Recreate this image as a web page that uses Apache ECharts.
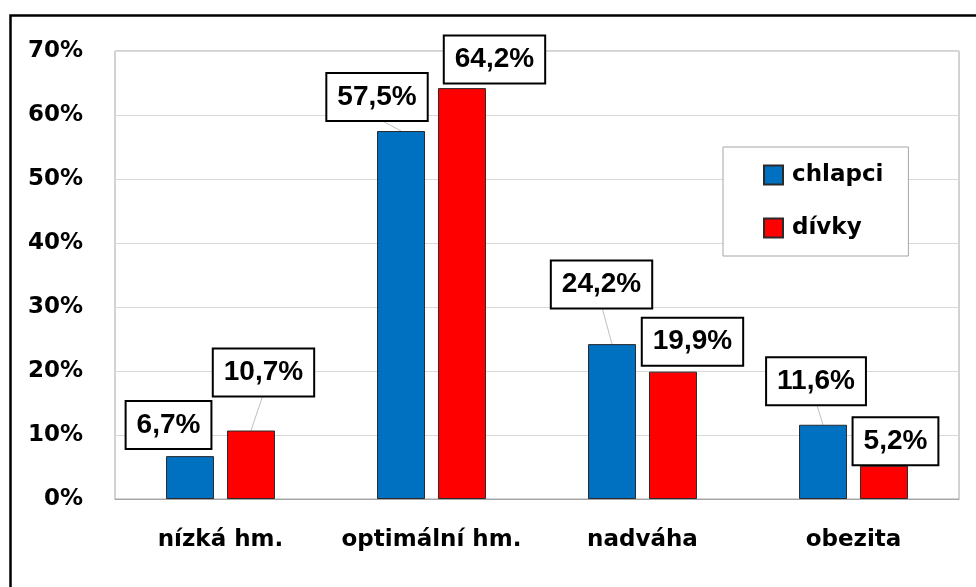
<!DOCTYPE html>
<html><head><meta charset="utf-8">
<script src="https://cdn.jsdelivr.net/npm/echarts@6/dist/echarts.min.js"></script>
<style>html,body{margin:0;padding:0;background:#fff}#c{width:976px;height:587px}</style>
</head><body><div id="c"></div>
<script>
// data
const categories = ['nízká hm.', 'optimální hm.', 'nadváha', 'obezita'];
const seriesNames = ['chlapci', 'dívky'];
const chlapci = [6.7, 57.5, 24.2, 11.6];
const divky = [10.7, 64.2, 19.9, 5.2];
const yMin = 0, yMax = 70, yStep = 10;

// label box centre offsets relative to bar top-centre (layout only)
const blueOff = [[-21.5, -32], [-24, -35], [-10.5, -60.5], [-7, -44.6]];
const redOff = [[12.5, -59], [32.5, -29.5], [19.5, -31], [11.5, -25.5]];
const LBL_H = 48;
const BAR_W = 48, BAR_GAP_PX = 13;
const SIDE = (BAR_W + BAR_GAP_PX) / 2;

const axisFont = 'DejaVu Sans';
const labelFont = 'Liberation Sans';

function fmt(v) { return v.toFixed(1).replace('.', ',') + '%'; }

function makeLabel() {
  return {
    show: true, position: 'top', distance: 0,
    formatter: p => fmt(p.value),
    fontFamily: labelFont, fontWeight: 'bold', fontSize: 28, color: '#000',
    lineHeight: 30,
    backgroundColor: '#fff', borderColor: '#000', borderWidth: 2,
    padding: [8, 10, 8, 10]
  };
}
function layoutFor(off) {
  return function (params) {
    const o = off[params.dataIndex];
    return { dx: o[0], dy: o[1] + LBL_H / 2 };
  };
}

// leader lines: from label box bottom to bar top centre, via axis coords
function leaderSeries(values, off, side) {
  return {
    type: 'custom', silent: true, z: 1,
    data: values.map((v, i) => [i, v]),
    encode: { x: 0, y: 1 },
    renderItem: function (params, api) {
      const i = api.value(0);
      const p = api.coord([i, api.value(1)]);
      const bx = p[0] + side, by = p[1];
      const o = off[i];
      const lx = bx + o[0], ly = by + o[1] + LBL_H / 2;
      if (by - ly < 10) return null;
      return {
        type: 'line',
        shape: { x1: lx, y1: ly - 2, x2: bx, y2: by },
        style: { stroke: '#bfbfbf', lineWidth: 1 }
      };
    }
  };
}

const chart = echarts.init(document.getElementById('c'), null, { renderer: 'canvas' });
chart.setOption({
  animation: false,
  backgroundColor: '#fff',
  graphic: [{
    type: 'rect', left: 8, top: 13, silent: true,
    shape: { width: 1200, height: 1200 },
    style: { fill: 'none', stroke: '#000', lineWidth: 2.5 }
  }],
  grid: {
    left: 115, right: 17, top: 51, bottom: 88,
    show: true, borderColor: '#a6a6a6', borderWidth: 1, backgroundColor: 'transparent'
  },
  legend: {
    orient: 'vertical', left: 723, top: 147,
    data: seriesNames,
    icon: 'rect', itemWidth: 19, itemHeight: 19, itemGap: 27,
    padding: [15, 25, 15, 40],
    backgroundColor: '#fff', borderColor: '#a6a6a6', borderWidth: 1,
    textStyle: { fontFamily: axisFont, fontWeight: 'bold', fontSize: 23, color: '#000', lineHeight: 26, padding: [0, 0, 0, 4] }
  },
  xAxis: {
    type: 'category', data: categories,
    axisLine: { show: true, lineStyle: { color: '#a6a6a6', width: 1 } },
    axisTick: { show: false },
    axisLabel: { interval: 0, margin: 30, fontFamily: axisFont, fontWeight: 'bold', fontSize: 23, color: '#000' }
  },
  yAxis: {
    type: 'value', min: yMin, max: yMax, interval: yStep,
    axisLine: { show: false }, axisTick: { show: false },
    splitLine: { lineStyle: { color: '#d9d9d9', width: 1 } },
    axisLabel: { margin: 32, formatter: '{value}%', fontFamily: axisFont, fontWeight: 'bold', fontSize: 23, color: '#000' }
  },
  series: [
    {
      name: seriesNames[0], type: 'bar', data: chlapci, z: 2,
      barWidth: BAR_W, barGap: '27%',
      itemStyle: { color: '#0070C0', borderColor: '#2a2a2a', borderWidth: 1 },
      label: makeLabel(),
      labelLayout: layoutFor(blueOff)
    },
    {
      name: seriesNames[1], type: 'bar', data: divky, z: 2,
      barWidth: BAR_W, barGap: '27%',
      itemStyle: { color: '#FF0000', borderColor: '#2a2a2a', borderWidth: 1 },
      label: makeLabel(),
      labelLayout: layoutFor(redOff)
    },
    leaderSeries(chlapci, blueOff, -SIDE),
    leaderSeries(divky, redOff, SIDE)
  ]
});
</script></body></html>
